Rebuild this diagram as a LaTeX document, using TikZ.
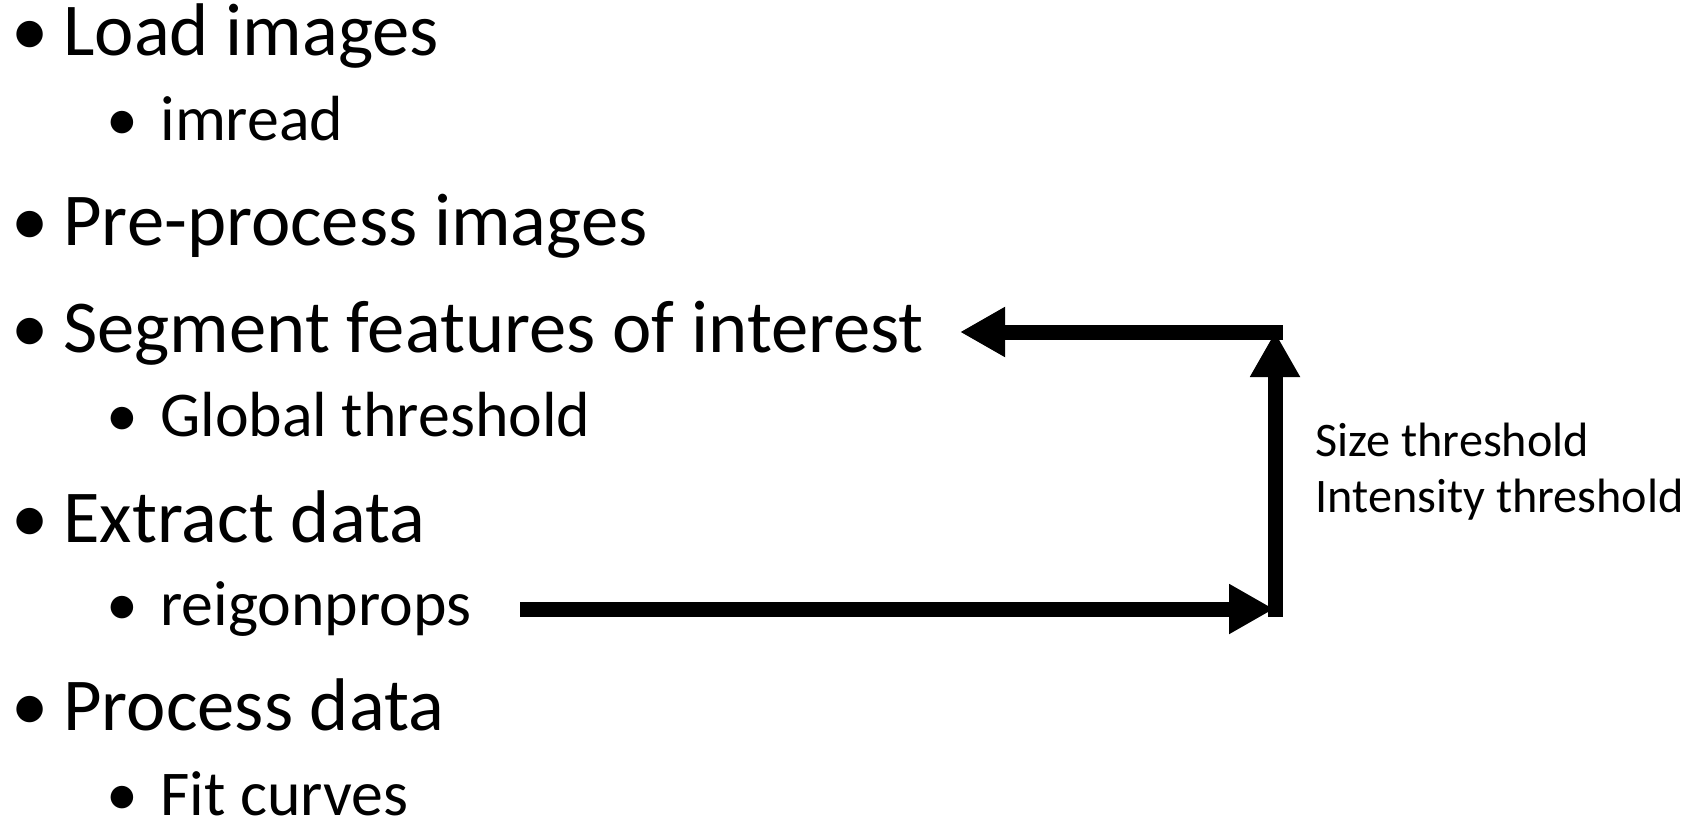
\documentclass[tikz,border=0pt]{standalone}
\usepackage{fontspec}
\setmainfont{Carlito}
\usepackage{tikz}
\usetikzlibrary{arrows.meta}

\tikzset{
    lvlone/.style={anchor=base west, inner sep=0pt, font=\fontsize{37.3}{42}\selectfont},
    lvltwo/.style={anchor=base west, inner sep=0pt, font=\fontsize{31.9}{36}\selectfont},
    dotone/.style={anchor=base, inner sep=0pt, font=\fontsize{37.3}{42}\selectfont},
    dottwo/.style={anchor=base, inner sep=0pt, font=\fontsize{31.9}{36}\selectfont},
    note/.style={anchor=base west, inner sep=0pt, font=\fontsize{24.1}{28}\selectfont},
    fat/.style={line width=7.5pt, -{Triangle[length=22.5pt,width=23.5pt]}}
}

\begin{document}
\begin{tikzpicture}[x=0.5pt,y=-0.5pt]
        \useasboundingbox (0,0) rectangle (1689,823);

        % bullet list
        \node[dotone] (b1) at (30,56) {•};
        \node[lvlone] (load) at (63,56) {Load images};
        \node[dottwo] (b2) at (122,141) {•};
        \node[lvltwo] (imread) at (160,141) {imread};
        \node[dotone] (b3) at (30,246) {•};
        \node[lvlone] (pre) at (63,246) {Pre-process images};
        \node[dotone] (b4) at (30,352) {•};
        \node[lvlone] (seg) at (63,352) {Segment features of interest};
        \node[dottwo] (b5) at (122,436) {•};
        \node[lvltwo] (global) at (160,436) {Global threshold};
        \node[dotone] (b6) at (30,542) {•};
        \node[lvlone] (extract) at (63,542) {Extract data};
        \node[dottwo] (b7) at (122,625) {•};
        \node[lvltwo] (props) at (160,625) {reigonprops};
        \node[dotone] (b8) at (30,730) {•};
        \node[lvlone] (process) at (63,730) {Process data};
        \node[dottwo] (b9) at (122,815) {•};
        \node[lvltwo] (fit) at (160,815) {Fit curves};

        % loop back
        \coordinate (start) at (520,609);
        \coordinate (low) at (1274,609);
        \coordinate (bot) at (1275,617);
        \coordinate (top) at (1275,332);
        \coordinate (right) at (1283,332);
        \coordinate (tip) at (960,332);
        \draw[fat] (start) -- (low);
        \draw[fat] (bot) -- (top);
        \draw[fat] (right) -- (tip);

        \node[note] (size) at (1315,456) {Size threshold};
        \node[note] (inten) at (1315,512) {Intensity threshold};
    \end{tikzpicture}
\end{document}
